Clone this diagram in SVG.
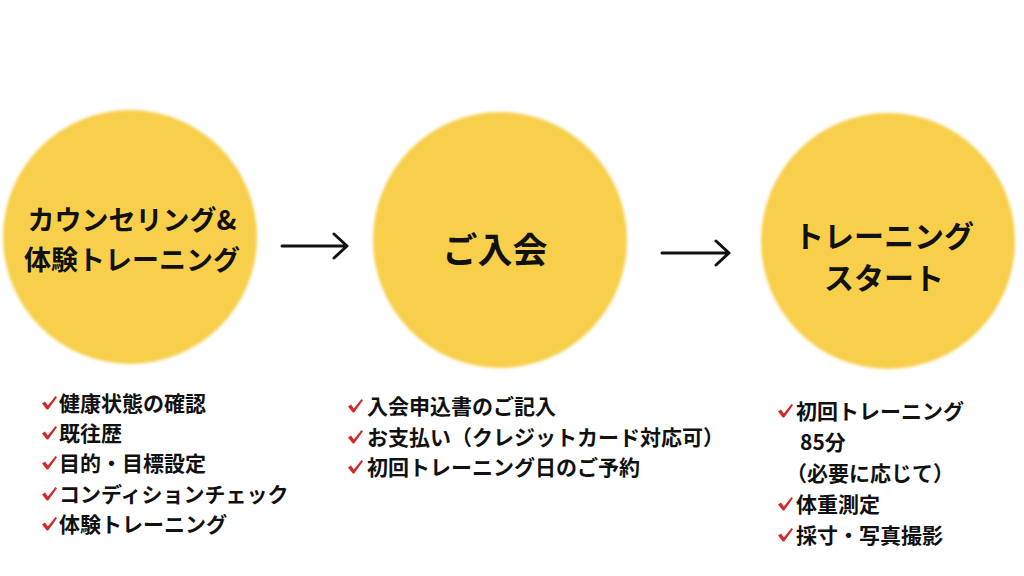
<svg xmlns="http://www.w3.org/2000/svg" width="1024" height="576" viewBox="0 0 1024 576">
<style>
.circ{fill:#F8CF4B;filter:url(#soft)}
.t{font-family:"Noto Sans CJK JP","Noto Sans CJK SC",sans-serif;font-weight:bold;fill:#111;dominant-baseline:central}
.big{font-size:27px}
.l{font-size:21px}
.arr{stroke:#111;stroke-width:3;fill:none;stroke-linecap:round;stroke-linejoin:round}
</style>
<defs>
<filter id="soft" x="-5%" y="-5%" width="110%" height="110%"><feGaussianBlur stdDeviation="1.5"/></filter>
<path id="chk" d="M0,7.5 L3,5.5 L5.8,9.5 L13.5,0 L15,1.2 L6.2,13.5 L4.8,13.5 Z" fill="#D3282A"/>
</defs>
<rect width="1024" height="576" fill="#fff"/>
<g id="node1">
<ellipse class="circ" cx="130" cy="237" rx="127" ry="127"/>
<text class="t big" x="132" y="218" text-anchor="middle">カウンセリング&amp;</text>
<text class="t big" x="132" y="258" text-anchor="middle">体験トレーニング</text>
</g>
<g id="node2">
<ellipse class="circ" cx="500" cy="240" rx="127" ry="128"/>
<text class="t" style="font-size:35px" x="495" y="247" text-anchor="middle">ご入会</text>
</g>
<g id="node3">
<ellipse class="circ" cx="888" cy="241" rx="127" ry="128"/>
<text class="t" style="font-size:30px" x="884" y="234" text-anchor="middle">トレーニング</text>
<text class="t" style="font-size:30px" x="884" y="276" text-anchor="middle">スタート</text>
</g>
<g id="connectors">
<path class="arr" d="M282,246 H346 M334,234 L347,246 L334,258"/>
<path class="arr" d="M662,253 H728 M716,241 L729,253 L716,265"/>
</g>
<g id="list1">
<use href="#chk" x="42" y="396"/><text class="t l" x="59" y="402">健康状態の確認</text>
<use href="#chk" x="42" y="426"/><text class="t l" x="59" y="432">既往歴</text>
<use href="#chk" x="42" y="456"/><text class="t l" x="59" y="462">目的・目標設定</text>
<use href="#chk" x="42" y="487"/><text class="t l" x="59" y="493">コンディションチェック</text>
<use href="#chk" x="42" y="517"/><text class="t l" x="59" y="523">体験トレーニング</text>
</g>
<g id="list2">
<use href="#chk" x="348" y="399"/><text class="t l" x="367" y="405">入会申込書のご記入</text>
<use href="#chk" x="348" y="430"/><text class="t l" x="367" y="436">お支払い（クレジットカード対応可）</text>
<use href="#chk" x="348" y="460"/><text class="t l" x="367" y="466">初回トレーニング日のご予約</text>
</g>
<g id="list3">
<use href="#chk" x="778" y="404"/><text class="t l" x="796" y="410">初回トレーニング</text>
<text class="t l" x="800" y="441">85分</text>
<text class="t l" x="786" y="472">（必要に応じて）</text>
<use href="#chk" x="778" y="497"/><text class="t l" x="796" y="503">体重測定</text>
<use href="#chk" x="778" y="528"/><text class="t l" x="796" y="534">採寸・写真撮影</text>
</g>
</svg>
